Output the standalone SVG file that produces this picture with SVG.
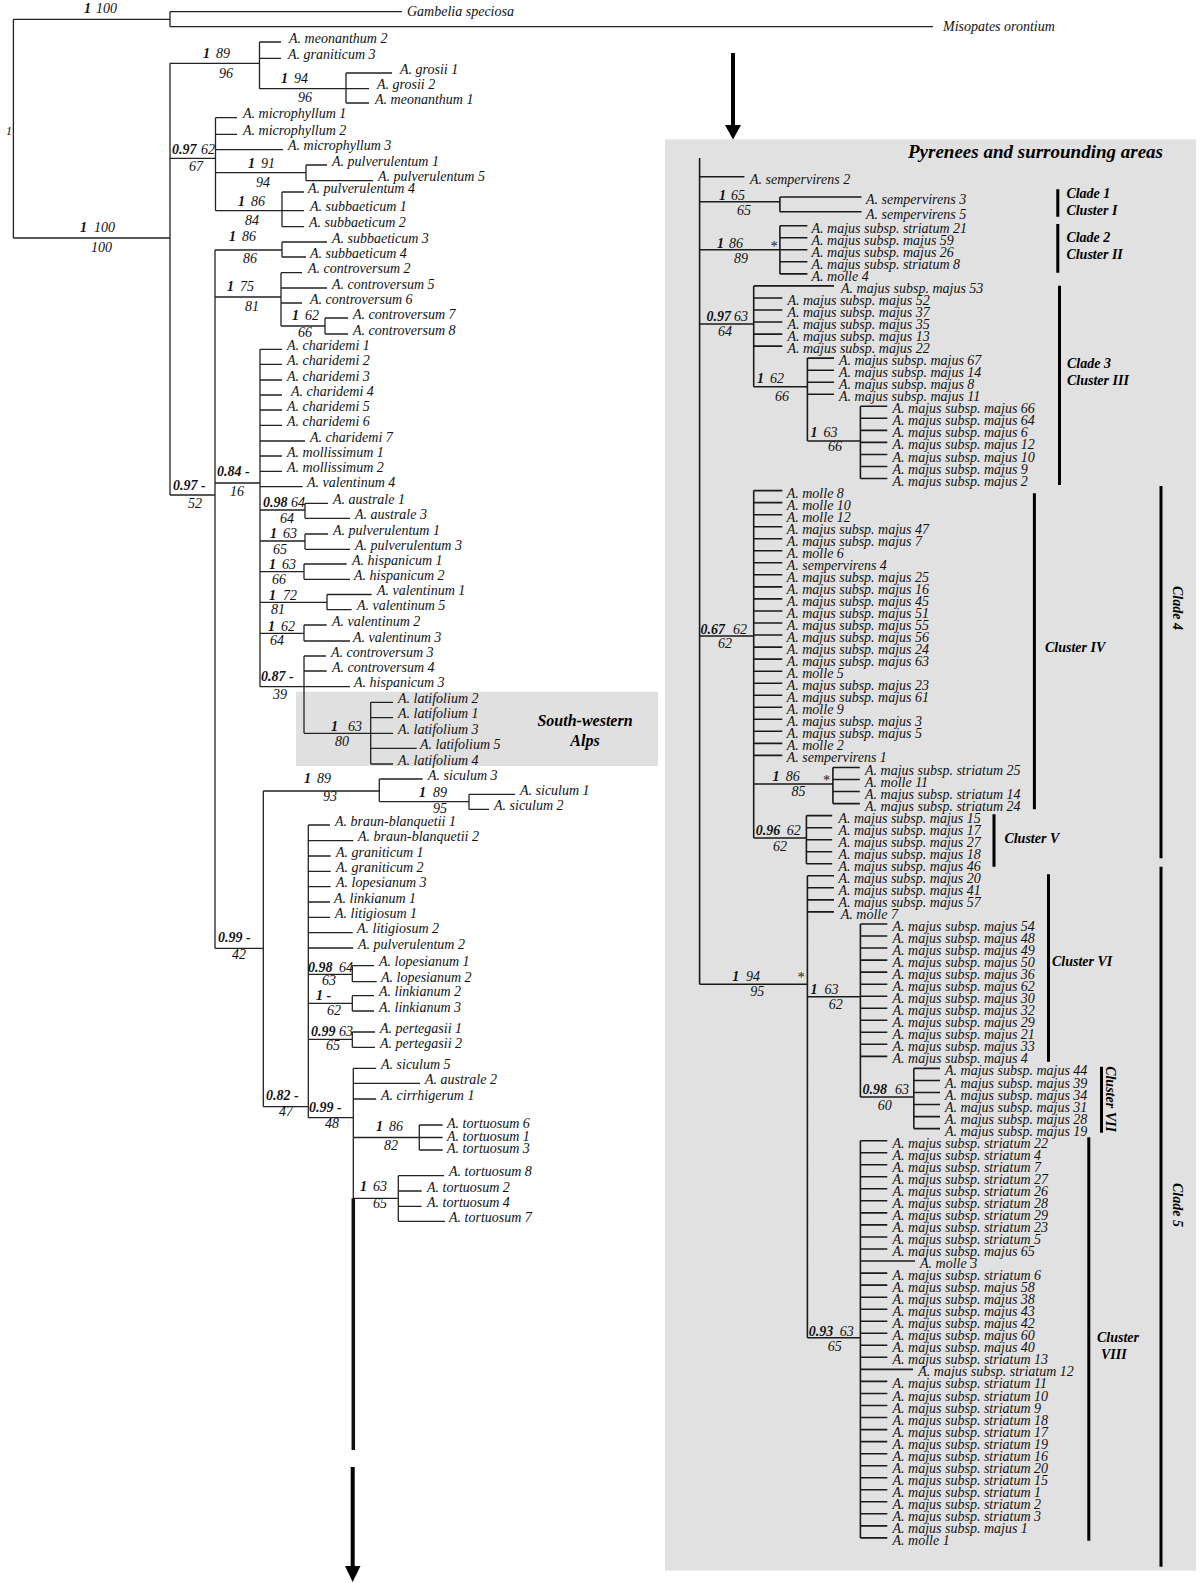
<svg xmlns="http://www.w3.org/2000/svg" width="1200" height="1583" viewBox="0 0 1200 1583">
<style>
.t{font-family:"Liberation Serif","Times New Roman",serif;font-style:italic;font-size:14px;fill:#111}
.b{font-weight:bold}
.h{font-family:"Liberation Serif","Times New Roman",serif;font-style:italic;font-weight:bold;font-size:14px;fill:#000}
.br{fill:none;stroke:#222;stroke-width:1.3}
.brR{fill:none;stroke:#1a1a1a;stroke-width:1.6}
.bar{fill:none;stroke:#000;stroke-width:3}
</style>
<rect width="1200" height="1583" fill="#fff"/>
<rect id="box-pyrenees" x="665" y="139.3" width="531" height="1431.4" fill="#e1e1e1"/>
<rect id="box-alps" x="296" y="691.7" width="362" height="74.3" fill="#e0e0e0"/>

<g id="connectors">
<path class="br" d="M13.4 19.3V238M13.4 19.3H170M170 11.7V26.7M170 11.7H402M170 26.7H933M13.4 238H170M170 63.3V495
M170 63.3H259.5M259.5 42V88.7M259.5 42H281M259.5 58.3H281M259.5 88.7H346M346 73V103M346 73H392M346 88.7H369M346 103H369
M170 158.3H215.5M215.5 117.7V210.7M215.5 117.7H237M215.5 134.3H237M215.5 149.7H283M215.5 172.7H306M306 165V180.7M306 165H327M306 180.7H373M215.5 210.7H282M282 192V226.7M282 192H304M282 210.7H304M282 226.7H304
M170 495H215M215 250V948.3M215 250H282M282 242V257M282 242H327M282 257H306M215 297H281M281 272.7V326M281 272.7H302M281 288H327M281 303H302M281 326H325M325 318V334M325 318H348M325 334H348
M215 483H260M260 349.3V686.7M260 349.3H282M260 364.3H282M260 380H282M260 395H282M260 410H282M260 425.3H282M260 441H305M260 456H282M260 471.3H282M260 486.7H302.7
M260 510H305M305 503.3V518.3M305 503.3H328M305 518.3H350
M260 541H305M305 534V549.3M305 534H328M305 549.3H350
M260 571.7H304M304 564V579.3M304 564H346.7M304 579.3H350
M260 602.3H327M327 594.5V609.7M327 594.5H371.7M327 609.7H351.7
M260 633.3H304M304 625V641M304 625H326.7M304 641H350
M304 656V733.3M304 656H326M304 671H326.7M260 686.7H350
M304 733.3H370.7M370.7 702.3V764M370.7 702.3H393M370.7 717.7H393M370.7 733.3H393M370.7 748.3H416.7M370.7 764H393
M215 948.3H263.3M263.3 791V1106.7M263.3 791H379.3M379.3 779V801.7M379.3 779H422.7M379.3 801.7H469M469 794.3V809.3M469 794.3H515M469 809.3H489
M263.3 1106.7H308.3M308.3 825V1117.7M308.3 825H330M308.3 840.7H353.3M308.3 856H330.7M308.3 871.3H330.7M308.3 886.7H330.7M308.3 902H330M308.3 917.3H330M308.3 932.7H352.7M308.3 948H353.3
M308.3 974.3H352.3M352.3 965.7V981.7M352.3 965.7H374M352.3 981.7H376.7
M308.3 1003.3H352.3M352.3 995.7V1011M352.3 995.7H374M352.3 1011H374
M308.3 1039.3H352.3M352.3 1032V1047.3M352.3 1032H375M352.3 1047.3H375
M308.3 1117.7H353.3M353.3 1068.3V1198.3M353.3 1068.3H376M353.3 1083.3H420M353.3 1099H376
M353.3 1137.5H419.3M419.3 1125V1150M419.3 1125H442.7M419.3 1137.5H442.7M419.3 1150H442.7
M353.3 1198.3H398.3M398.3 1175.7V1221.3M398.3 1175.7H444M398.3 1191H421.7M398.3 1206.3H421.7M398.3 1221.3H445"/>
<path fill="none" stroke="#111" stroke-width="3.5" d="M353.3 1198.3V1450"/>
<path fill="none" stroke="#000" stroke-width="4" d="M352.7 1467V1568M733 53V127"/>
<polygon points="345,1566 360.5,1566 352.7,1582" fill="#000"/>
<polygon points="725,125 741,125 733,139.5" fill="#000"/>
<path class="brR" d="M699.6 158V984.3M699.6 176.7H744.4
M699.6 201.7H779.9M779.9 197V211.7M779.9 197H861.5M779.9 211.7H861.5
M699.6 249.8H779.9M779.9 225.7V273.9M779.9 225.7H807.4M779.9 237.7H807.4M779.9 249.8H807.4M779.9 261.8H807.4M779.9 273.9H807.4
M699.6 324H753.7M753.7 285.9V386.7M753.7 285.9H834M753.7 298H782.3M753.7 310H782.3M753.7 322H782.3M753.7 334.1H782.3M753.7 346.1H782.3
M753.7 386.7H807.4M807.4 358.1V441M807.4 358.1H834M807.4 370.2H834M807.4 382.2H834M807.4 394.3H834
M807.4 441H860.4M860.4 406.3V478.5M860.4 406.3H887.3M860.4 418.3H887.3M860.4 430.4H887.3M860.4 442.4H887.3M860.4 454.5H887.3M860.4 466.5H887.3M860.4 478.5H887.3
M699.6 636H753.7M753.7 490.6V838M753.7 490.6H782.3M753.7 502.6H782.3M753.7 514.7H782.3M753.7 526.7H782.3M753.7 538.7H782.3M753.7 550.8H782.3M753.7 562.8H782.3M753.7 574.8H782.3M753.7 586.9H782.3M753.7 598.9H782.3M753.7 611H782.3M753.7 623H782.3M753.7 635H782.3M753.7 647.1H782.3M753.7 659.1H782.3M753.7 671.2H782.3M753.7 683.2H782.3M753.7 695.2H782.3M753.7 707.3H782.3M753.7 719.3H782.3M753.7 731.3H782.3M753.7 743.4H782.3M753.7 755.4H782.3
M753.7 784H832.9M832.9 767.5V803.6M832.9 767.5H859.8M832.9 779.5H859.8M832.9 791.5H859.8M832.9 803.6H859.8
M753.7 838H806.4M806.4 815.6V863.8M806.4 815.6H832.2M806.4 827.7H832.2M806.4 839.7H832.2M806.4 851.7H832.2M806.4 863.8H832.2
M699.6 984.3H807.4M807.4 875.8V1337.7M807.4 875.8H834M807.4 887.8H834M807.4 899.9H834M807.4 911.9H834
M807.4 996.7H860.4M860.4 924V1097M860.4 924H887.3M860.4 936H887.3M860.4 948H887.3M860.4 960.1H887.3M860.4 972.1H887.3M860.4 984.2H887.3M860.4 996.2H887.3M860.4 1008.2H887.3M860.4 1020.3H887.3M860.4 1032.3H887.3M860.4 1044.3H887.3M860.4 1056.4H887.3
M860.4 1097H913.8M913.8 1068.4V1128.6M913.8 1068.4H940M913.8 1080.5H940M913.8 1092.5H940M913.8 1104.5H940M913.8 1116.6H940M913.8 1128.6H940
M807.4 1337.7H860.4M860.4 1140.7V1537.9M860.4 1140.7H887.3M860.4 1152.7H887.3M860.4 1164.7H887.3M860.4 1176.8H887.3M860.4 1188.8H887.3M860.4 1200.8H887.3M860.4 1212.9H887.3M860.4 1224.9H887.3M860.4 1237H887.3M860.4 1249H887.3M860.4 1261H915M860.4 1273.1H887.3M860.4 1285.1H887.3M860.4 1297.2H887.3M860.4 1309.2H887.3M860.4 1321.2H887.3M860.4 1333.3H887.3M860.4 1345.3H887.3M860.4 1357.3H887.3M860.4 1369.4H913M860.4 1381.4H887.3M860.4 1393.5H887.3M860.4 1405.5H887.3M860.4 1417.5H887.3M860.4 1429.6H887.3M860.4 1441.6H887.3M860.4 1453.7H887.3M860.4 1465.7H887.3M860.4 1477.7H887.3M860.4 1489.8H887.3M860.4 1501.8H887.3M860.4 1513.8H887.3M860.4 1525.9H887.3M860.4 1537.9H887.3"/>
<path class="bar" d="M1057.8 189.3V216.7M1057.8 224V272.7M1059.5 285.7V485M1034.4 493.3V809.3M1161 486V858.3M994 814.3V866.7M1161 866.7V1566.7M1048.5 874.3V1061.7M1101.5 1066.7V1132.7M1088.8 1137.3V1540.7"/>
</g>

<g id="support-left">
<text class="t" x="6" y="135" style="font-size:12px">1</text>
<text class="t" x="84" y="13"><tspan class="b">1</tspan><tspan x="96">100</tspan></text>
<text class="t" x="80" y="231.5"><tspan class="b">1</tspan><tspan x="94">100</tspan></text>
<text class="t" x="91" y="251.5">100</text>
<text class="t" x="203" y="57.5"><tspan class="b">1</tspan><tspan x="216">89</tspan></text>
<text class="t" x="219" y="77.5">96</text>
<text class="t" x="281" y="82.5"><tspan class="b">1</tspan><tspan x="294">94</tspan></text>
<text class="t" x="298" y="101.5">96</text>
<text class="t" x="172" y="153.5"><tspan class="b">0.97</tspan><tspan x="201">62</tspan></text>
<text class="t" x="189" y="170.5">67</text>
<text class="t" x="248" y="167.5"><tspan class="b">1</tspan><tspan x="261">91</tspan></text>
<text class="t" x="256" y="186.5">94</text>
<text class="t" x="238" y="206"><tspan class="b">1</tspan><tspan x="251">86</tspan></text>
<text class="t" x="245" y="224.5">84</text>
<text class="t" x="229" y="240.5"><tspan class="b">1</tspan><tspan x="242">86</tspan></text>
<text class="t" x="243" y="262.5">86</text>
<text class="t" x="227" y="290.5"><tspan class="b">1</tspan><tspan x="240">75</tspan></text>
<text class="t" x="245" y="310.5">81</text>
<text class="t" x="292" y="319.5"><tspan class="b">1</tspan><tspan x="305">62</tspan></text>
<text class="t" x="298" y="336.5">66</text>
<text class="t b" x="173" y="489.5">0.97 -</text>
<text class="t" x="188" y="508">52</text>
<text class="t b" x="217" y="476">0.84 -</text>
<text class="t" x="230" y="496">16</text>
<text class="t" x="263" y="507"><tspan class="b">0.98</tspan><tspan x="291">64</tspan></text>
<text class="t" x="280" y="523">64</text>
<text class="t" x="270" y="538"><tspan class="b">1</tspan><tspan x="283">63</tspan></text>
<text class="t" x="273" y="554">65</text>
<text class="t" x="269" y="568.5"><tspan class="b">1</tspan><tspan x="282">63</tspan></text>
<text class="t" x="272" y="583.5">66</text>
<text class="t" x="269" y="599.5"><tspan class="b">1</tspan><tspan x="283">72</tspan></text>
<text class="t" x="271" y="614">81</text>
<text class="t" x="268" y="630.5"><tspan class="b">1</tspan><tspan x="281">62</tspan></text>
<text class="t" x="270" y="644.5">64</text>
<text class="t b" x="261" y="681">0.87 -</text>
<text class="t" x="273" y="698.5">39</text>
<text class="t" x="331" y="730.5"><tspan class="b">1</tspan><tspan x="348">63</tspan></text>
<text class="t" x="335" y="746">80</text>
<text class="t b" x="218" y="942">0.99 -</text>
<text class="t" x="232" y="959">42</text>
<text class="t" x="304" y="783"><tspan class="b">1</tspan><tspan x="317">89</tspan></text>
<text class="t" x="323" y="801">93</text>
<text class="t" x="419" y="797"><tspan class="b">1</tspan><tspan x="433">89</tspan></text>
<text class="t" x="433" y="813">95</text>
<text class="t b" x="266" y="1099.5">0.82 -</text>
<text class="t" x="279" y="1116">47</text>
<text class="t" x="308" y="971.5"><tspan class="b">0.98</tspan><tspan x="339">64</tspan></text>
<text class="t" x="322" y="984.5">63</text>
<text class="t b" x="316" y="1000">1 -</text>
<text class="t" x="327" y="1014.5">62</text>
<text class="t" x="311" y="1036"><tspan class="b">0.99</tspan><tspan x="339">63</tspan></text>
<text class="t" x="326" y="1050">65</text>
<text class="t b" x="309" y="1111.5">0.99 -</text>
<text class="t" x="325" y="1128">48</text>
<text class="t" x="376" y="1131"><tspan class="b">1</tspan><tspan x="389">86</tspan></text>
<text class="t" x="384" y="1149.5">82</text>
<text class="t" x="360" y="1190.5"><tspan class="b">1</tspan><tspan x="373">63</tspan></text>
<text class="t" x="373" y="1208">65</text>
</g>

<g id="outgroups">
<g id="gambelia"><text class="t" x="407" y="16">Gambelia speciosa</text></g>
<g id="misopates"><text class="t" x="943" y="31">Misopates orontium</text></g>
</g>

<g id="leaves-left">
<g id="l-meonanthum2"><text class="t" x="289" y="42.5">A. meonanthum 2</text></g>
<g id="l-graniticum3"><text class="t" x="288" y="58.8">A. graniticum 3</text></g>
<g id="l-grosii1"><text class="t" x="400" y="73.5">A. grosii 1</text></g>
<g id="l-grosii2"><text class="t" x="377" y="89.2">A. grosii 2</text></g>
<g id="l-meonanthum1"><text class="t" x="375" y="103.5">A. meonanthum 1</text></g>
<g id="l-microphyllum1"><text class="t" x="243" y="118.2">A. microphyllum 1</text></g>
<g id="l-microphyllum2"><text class="t" x="243" y="134.8">A. microphyllum 2</text></g>
<g id="l-microphyllum3"><text class="t" x="288" y="150.2">A. microphyllum 3</text></g>
<g id="l-pulverulentum1"><text class="t" x="332" y="165.5">A. pulverulentum 1</text></g>
<g id="l-pulverulentum5"><text class="t" x="378" y="181.2">A. pulverulentum 5</text></g>
<g id="l-pulverulentum4"><text class="t" x="308" y="192.5">A. pulverulentum 4</text></g>
<g id="l-subbaeticum1"><text class="t" x="310" y="211">A. subbaeticum 1</text></g>
<g id="l-subbaeticum2"><text class="t" x="309" y="227.2">A. subbaeticum 2</text></g>
<g id="l-subbaeticum3"><text class="t" x="332" y="242.5">A. subbaeticum 3</text></g>
<g id="l-subbaeticum4"><text class="t" x="310" y="257.5">A. subbaeticum 4</text></g>
<g id="l-controversum2"><text class="t" x="308" y="273.2">A. controversum 2</text></g>
<g id="l-controversum5"><text class="t" x="332" y="288.5">A. controversum 5</text></g>
<g id="l-controversum6"><text class="t" x="310" y="303.5">A. controversum 6</text></g>
<g id="l-controversum7"><text class="t" x="353" y="318.5">A. controversum 7</text></g>
<g id="l-controversum8"><text class="t" x="353" y="334.5">A. controversum 8</text></g>
<g id="l-charidemi1"><text class="t" x="287" y="350">A. charidemi 1</text></g>
<g id="l-charidemi2"><text class="t" x="287" y="365">A. charidemi 2</text></g>
<g id="l-charidemi3"><text class="t" x="287" y="380.5">A. charidemi 3</text></g>
<g id="l-charidemi4"><text class="t" x="291" y="395.5">A. charidemi 4</text></g>
<g id="l-charidemi5"><text class="t" x="287" y="410.5">A. charidemi 5</text></g>
<g id="l-charidemi6"><text class="t" x="287" y="426">A. charidemi 6</text></g>
<g id="l-charidemi7"><text class="t" x="310" y="441.5">A. charidemi 7</text></g>
<g id="l-mollissimum1"><text class="t" x="287" y="456.5">A. mollissimum 1</text></g>
<g id="l-mollissimum2"><text class="t" x="287" y="472">A. mollissimum 2</text></g>
<g id="l-valentinum4"><text class="t" x="307" y="487">A. valentinum 4</text></g>
<g id="l-australe1"><text class="t" x="333" y="503.8">A. australe 1</text></g>
<g id="l-australe3"><text class="t" x="355" y="518.8">A. australe 3</text></g>
<g id="l-pulverulentum1b"><text class="t" x="333" y="534.5">A. pulverulentum 1</text></g>
<g id="l-pulverulentum3"><text class="t" x="355" y="549.8">A. pulverulentum 3</text></g>
<g id="l-hispanicum1"><text class="t" x="352" y="564.5">A. hispanicum 1</text></g>
<g id="l-hispanicum2"><text class="t" x="354" y="579.8">A. hispanicum 2</text></g>
<g id="l-valentinum1"><text class="t" x="377" y="595">A. valentinum 1</text></g>
<g id="l-valentinum5"><text class="t" x="357" y="610.2">A. valentinum 5</text></g>
<g id="l-valentinum2"><text class="t" x="332" y="625.5">A. valentinum 2</text></g>
<g id="l-valentinum3"><text class="t" x="353" y="641.5">A. valentinum 3</text></g>
<g id="l-controversum3"><text class="t" x="331" y="656.5">A. controversum 3</text></g>
<g id="l-controversum4"><text class="t" x="332" y="671.5">A. controversum 4</text></g>
<g id="l-hispanicum3"><text class="t" x="354" y="687.2">A. hispanicum 3</text></g>
<g id="l-latifolium2"><text class="t" x="398" y="702.8">A. latifolium 2</text></g>
<g id="l-latifolium1"><text class="t" x="398" y="718.2">A. latifolium 1</text></g>
<g id="l-latifolium3"><text class="t" x="398" y="733.8">A. latifolium 3</text></g>
<g id="l-latifolium5"><text class="t" x="420" y="748.8">A. latifolium 5</text></g>
<g id="l-latifolium4"><text class="t" x="398" y="764.5">A. latifolium 4</text></g>
<g id="l-siculum3"><text class="t" x="428" y="779.5">A. siculum 3</text></g>
<g id="l-siculum1"><text class="t" x="520" y="794.8">A. siculum 1</text></g>
<g id="l-siculum2"><text class="t" x="494" y="809.8">A. siculum 2</text></g>
<g id="l-braun1"><text class="t" x="335" y="825.5">A. braun-blanquetii 1</text></g>
<g id="l-braun2"><text class="t" x="358" y="841.2">A. braun-blanquetii 2</text></g>
<g id="l-graniticum1"><text class="t" x="336" y="856.5">A. graniticum 1</text></g>
<g id="l-graniticum2"><text class="t" x="336" y="871.8">A. graniticum 2</text></g>
<g id="l-lopesianum3"><text class="t" x="336" y="887.2">A. lopesianum 3</text></g>
<g id="l-linkianum1"><text class="t" x="334" y="902.5">A. linkianum 1</text></g>
<g id="l-litigiosum1"><text class="t" x="335" y="917.8">A. litigiosum 1</text></g>
<g id="l-litigiosum2"><text class="t" x="357" y="933.2">A. litigiosum 2</text></g>
<g id="l-pulverulentum2"><text class="t" x="358" y="948.5">A. pulverulentum 2</text></g>
<g id="l-lopesianum1"><text class="t" x="379" y="966.2">A. lopesianum 1</text></g>
<g id="l-lopesianum2"><text class="t" x="381" y="982.2">A. lopesianum 2</text></g>
<g id="l-linkianum2"><text class="t" x="379" y="996.2">A. linkianum 2</text></g>
<g id="l-linkianum3"><text class="t" x="379" y="1011.5">A. linkianum 3</text></g>
<g id="l-pertegasii1"><text class="t" x="380" y="1032.5">A. pertegasii 1</text></g>
<g id="l-pertegasii2"><text class="t" x="380" y="1047.8">A. pertegasii 2</text></g>
<g id="l-siculum5"><text class="t" x="381" y="1068.8">A. siculum 5</text></g>
<g id="l-australe2"><text class="t" x="425" y="1083.8">A. australe 2</text></g>
<g id="l-cirrhigerum1"><text class="t" x="381" y="1099.5">A. cirrhigerum 1</text></g>
<g id="l-tortuosum6"><text class="t" x="447" y="1128">A. tortuosum 6</text></g>
<g id="l-tortuosum1"><text class="t" x="447" y="1140.5">A. tortuosum 1</text></g>
<g id="l-tortuosum3"><text class="t" x="447" y="1153">A. tortuosum 3</text></g>
<g id="l-tortuosum8"><text class="t" x="449" y="1176.2">A. tortuosum 8</text></g>
<g id="l-tortuosum2"><text class="t" x="427" y="1191.5">A. tortuosum 2</text></g>
<g id="l-tortuosum4"><text class="t" x="427" y="1206.8">A. tortuosum 4</text></g>
<g id="l-tortuosum7"><text class="t" x="449" y="1221.8">A. tortuosum 7</text></g>
</g>

<g id="region-alps">
<text class="h" x="585" y="725.5" text-anchor="middle" style="font-size:16px">South-western</text>
<text class="h" x="585" y="745.5" text-anchor="middle" style="font-size:16px">Alps</text>
</g>

<g id="region-pyrenees">
<text class="h" x="908" y="158" style="font-size:19px">Pyrenees and surrounding areas</text>
</g>

<g id="support-right">
<text class="t" x="719" y="200"><tspan class="b">1</tspan><tspan x="731">65</tspan></text>
<text class="t" x="737" y="215">65</text>
<text class="t" x="717" y="247.5"><tspan class="b">1</tspan><tspan x="729">86</tspan></text>
<text class="t" x="734" y="263">89</text>
<text class="t" x="770" y="251">*</text>
<text class="t" x="706.5" y="321"><tspan class="b">0.97</tspan><tspan x="734">63</tspan></text>
<text class="t" x="718" y="336">64</text>
<text class="t" x="757" y="383"><tspan class="b">1</tspan><tspan x="770">62</tspan></text>
<text class="t" x="775" y="400.5">66</text>
<text class="t" x="810.5" y="437"><tspan class="b">1</tspan><tspan x="823.5">63</tspan></text>
<text class="t" x="828" y="451">66</text>
<text class="t" x="700.6" y="634"><tspan class="b">0.67</tspan><tspan x="733">62</tspan></text>
<text class="t" x="718" y="648">62</text>
<text class="t" x="772.6" y="780.5"><tspan class="b">1</tspan><tspan x="785.7">86</tspan></text>
<text class="t" x="791.6" y="796">85</text>
<text class="t" x="822.6" y="785">*</text>
<text class="t" x="755.7" y="835"><tspan class="b">0.96</tspan><tspan x="786.7">62</tspan></text>
<text class="t" x="773" y="851">62</text>
<text class="t" x="732.3" y="980.5"><tspan class="b">1</tspan><tspan x="746">94</tspan></text>
<text class="t" x="750.2" y="996">95</text>
<text class="t" x="797" y="982">*</text>
<text class="t" x="810.5" y="994"><tspan class="b">1</tspan><tspan x="824.6">63</tspan></text>
<text class="t" x="828.8" y="1008.5">62</text>
<text class="t" x="862.5" y="1094"><tspan class="b">0.98</tspan><tspan x="894.9">63</tspan></text>
<text class="t" x="877.7" y="1109.5">60</text>
<text class="t" x="808.8" y="1335.5"><tspan class="b">0.93</tspan><tspan x="839.8">63</tspan></text>
<text class="t" x="827.7" y="1351">65</text>
</g>

<g id="leaves-right">
<g id="r1"><text class="t" x="750" y="184">A. sempervirens 2</text></g>
<g id="r2"><text class="t" x="866" y="204">A. sempervirens 3</text></g>
<g id="r3"><text class="t" x="866" y="218.7">A. sempervirens 5</text></g>
<g id="r4"><text class="t" x="811.5" y="232.7">A. majus subsp. striatum 21</text></g>
<g id="r5"><text class="t" x="811.5" y="244.7">A. majus subsp. majus 59</text></g>
<g id="r6"><text class="t" x="811.5" y="256.8">A. majus subsp. majus 26</text></g>
<g id="r7"><text class="t" x="811.5" y="268.8">A. majus subsp. striatum 8</text></g>
<g id="r8"><text class="t" x="811.5" y="280.9">A. molle 4</text></g>
<g id="r9"><text class="t" x="841" y="292.9">A. majus subsp. majus 53</text></g>
<g id="r10"><text class="t" x="787.4" y="305">A. majus subsp. majus 52</text></g>
<g id="r11"><text class="t" x="787.4" y="317">A. majus subsp. majus 37</text></g>
<g id="r12"><text class="t" x="787.4" y="329">A. majus subsp. majus 35</text></g>
<g id="r13"><text class="t" x="787.4" y="341.1">A. majus subsp. majus 13</text></g>
<g id="r14"><text class="t" x="787.4" y="353.1">A. majus subsp. majus 22</text></g>
<g id="r15"><text class="t" x="839" y="365.1">A. majus subsp. majus 67</text></g>
<g id="r16"><text class="t" x="839" y="377.2">A. majus subsp. majus 14</text></g>
<g id="r17"><text class="t" x="839" y="389.2">A. majus subsp. majus 8</text></g>
<g id="r18"><text class="t" x="839" y="401.3">A. majus subsp. majus 11</text></g>
<g id="r19"><text class="t" x="892.5" y="413.3">A. majus subsp. majus 66</text></g>
<g id="r20"><text class="t" x="892.5" y="425.3">A. majus subsp. majus 64</text></g>
<g id="r21"><text class="t" x="892.5" y="437.4">A. majus subsp. majus 6</text></g>
<g id="r22"><text class="t" x="892.5" y="449.4">A. majus subsp. majus 12</text></g>
<g id="r23"><text class="t" x="892.5" y="461.5">A. majus subsp. majus 10</text></g>
<g id="r24"><text class="t" x="892.5" y="473.5">A. majus subsp. majus 9</text></g>
<g id="r25"><text class="t" x="892.5" y="485.5">A. majus subsp. majus 2</text></g>
<g id="r26"><text class="t" x="786.7" y="497.6">A. molle 8</text></g>
<g id="r27"><text class="t" x="786.7" y="509.6">A. molle 10</text></g>
<g id="r28"><text class="t" x="786.7" y="521.7">A. molle 12</text></g>
<g id="r29"><text class="t" x="786.7" y="533.7">A. majus subsp. majus 47</text></g>
<g id="r30"><text class="t" x="786.7" y="545.7">A. majus subsp. majus 7</text></g>
<g id="r31"><text class="t" x="786.7" y="557.8">A. molle 6</text></g>
<g id="r32"><text class="t" x="786.7" y="569.8">A. sempervirens 4</text></g>
<g id="r33"><text class="t" x="786.7" y="581.8">A. majus subsp. majus 25</text></g>
<g id="r34"><text class="t" x="786.7" y="593.9">A. majus subsp. majus 16</text></g>
<g id="r35"><text class="t" x="786.7" y="605.9">A. majus subsp. majus 45</text></g>
<g id="r36"><text class="t" x="786.7" y="618">A. majus subsp. majus 51</text></g>
<g id="r37"><text class="t" x="786.7" y="630">A. majus subsp. majus 55</text></g>
<g id="r38"><text class="t" x="786.7" y="642">A. majus subsp. majus 56</text></g>
<g id="r39"><text class="t" x="786.7" y="654.1">A. majus subsp. majus 24</text></g>
<g id="r40"><text class="t" x="786.7" y="666.1">A. majus subsp. majus 63</text></g>
<g id="r41"><text class="t" x="786.7" y="678.2">A. molle 5</text></g>
<g id="r42"><text class="t" x="786.7" y="690.2">A. majus subsp. majus 23</text></g>
<g id="r43"><text class="t" x="786.7" y="702.2">A. majus subsp. majus 61</text></g>
<g id="r44"><text class="t" x="786.7" y="714.3">A. molle 9</text></g>
<g id="r45"><text class="t" x="786.7" y="726.3">A. majus subsp. majus 3</text></g>
<g id="r46"><text class="t" x="786.7" y="738.3">A. majus subsp. majus 5</text></g>
<g id="r47"><text class="t" x="786.7" y="750.4">A. molle 2</text></g>
<g id="r48"><text class="t" x="786.7" y="762.4">A. sempervirens 1</text></g>
<g id="r49"><text class="t" x="865" y="774.5">A. majus subsp. striatum 25</text></g>
<g id="r50"><text class="t" x="865" y="786.5">A. molle 11</text></g>
<g id="r51"><text class="t" x="865" y="798.5">A. majus subsp. striatum 14</text></g>
<g id="r52"><text class="t" x="865" y="810.6">A. majus subsp. striatum 24</text></g>
<g id="r53"><text class="t" x="838.4" y="822.6">A. majus subsp. majus 15</text></g>
<g id="r54"><text class="t" x="838.4" y="834.7">A. majus subsp. majus 17</text></g>
<g id="r55"><text class="t" x="838.4" y="846.7">A. majus subsp. majus 27</text></g>
<g id="r56"><text class="t" x="838.4" y="858.7">A. majus subsp. majus 18</text></g>
<g id="r57"><text class="t" x="838.4" y="870.8">A. majus subsp. majus 46</text></g>
<g id="r58"><text class="t" x="838.4" y="882.8">A. majus subsp. majus 20</text></g>
<g id="r59"><text class="t" x="838.4" y="894.8">A. majus subsp. majus 41</text></g>
<g id="r60"><text class="t" x="838.4" y="906.9">A. majus subsp. majus 57</text></g>
<g id="r61"><text class="t" x="840.8" y="918.9">A. molle 7</text></g>
<g id="r62"><text class="t" x="892.5" y="931">A. majus subsp. majus 54</text></g>
<g id="r63"><text class="t" x="892.5" y="943">A. majus subsp. majus 48</text></g>
<g id="r64"><text class="t" x="892.5" y="955">A. majus subsp. majus 49</text></g>
<g id="r65"><text class="t" x="892.5" y="967.1">A. majus subsp. majus 50</text></g>
<g id="r66"><text class="t" x="892.5" y="979.1">A. majus subsp. majus 36</text></g>
<g id="r67"><text class="t" x="892.5" y="991.2">A. majus subsp. majus 62</text></g>
<g id="r68"><text class="t" x="892.5" y="1003.2">A. majus subsp. majus 30</text></g>
<g id="r69"><text class="t" x="892.5" y="1015.2">A. majus subsp. majus 32</text></g>
<g id="r70"><text class="t" x="892.5" y="1027.3">A. majus subsp. majus 29</text></g>
<g id="r71"><text class="t" x="892.5" y="1039.3">A. majus subsp. majus 21</text></g>
<g id="r72"><text class="t" x="892.5" y="1051.3">A. majus subsp. majus 33</text></g>
<g id="r73"><text class="t" x="892.5" y="1063.4">A. majus subsp. majus 4</text></g>
<g id="r74"><text class="t" x="945" y="1075.4">A. majus subsp. majus 44</text></g>
<g id="r75"><text class="t" x="945" y="1087.5">A. majus subsp. majus 39</text></g>
<g id="r76"><text class="t" x="945" y="1099.5">A. majus subsp. majus 34</text></g>
<g id="r77"><text class="t" x="945" y="1111.5">A. majus subsp. majus 31</text></g>
<g id="r78"><text class="t" x="945" y="1123.6">A. majus subsp. majus 28</text></g>
<g id="r79"><text class="t" x="945" y="1135.6">A. majus subsp. majus 19</text></g>
<g id="r80"><text class="t" x="892.5" y="1147.7">A. majus subsp. striatum 22</text></g>
<g id="r81"><text class="t" x="892.5" y="1159.7">A. majus subsp. striatum 4</text></g>
<g id="r82"><text class="t" x="892.5" y="1171.7">A. majus subsp. striatum 7</text></g>
<g id="r83"><text class="t" x="892.5" y="1183.8">A. majus subsp. striatum 27</text></g>
<g id="r84"><text class="t" x="892.5" y="1195.8">A. majus subsp. striatum 26</text></g>
<g id="r85"><text class="t" x="892.5" y="1207.8">A. majus subsp. striatum 28</text></g>
<g id="r86"><text class="t" x="892.5" y="1219.9">A. majus subsp. striatum 29</text></g>
<g id="r87"><text class="t" x="892.5" y="1231.9">A. majus subsp. striatum 23</text></g>
<g id="r88"><text class="t" x="892.5" y="1244">A. majus subsp. striatum 5</text></g>
<g id="r89"><text class="t" x="892.5" y="1256">A. majus subsp. majus 65</text></g>
<g id="r90"><text class="t" x="920" y="1268">A. molle 3</text></g>
<g id="r91"><text class="t" x="892.5" y="1280.1">A. majus subsp. striatum 6</text></g>
<g id="r92"><text class="t" x="892.5" y="1292.1">A. majus subsp. majus 58</text></g>
<g id="r93"><text class="t" x="892.5" y="1304.2">A. majus subsp. majus 38</text></g>
<g id="r94"><text class="t" x="892.5" y="1316.2">A. majus subsp. majus 43</text></g>
<g id="r95"><text class="t" x="892.5" y="1328.2">A. majus subsp. majus 42</text></g>
<g id="r96"><text class="t" x="892.5" y="1340.3">A. majus subsp. majus 60</text></g>
<g id="r97"><text class="t" x="892.5" y="1352.3">A. majus subsp. majus 40</text></g>
<g id="r98"><text class="t" x="892.5" y="1364.3">A. majus subsp. striatum 13</text></g>
<g id="r99"><text class="t" x="918.3" y="1376.4">A. majus subsp. striatum 12</text></g>
<g id="r100"><text class="t" x="892.5" y="1388.4">A. majus subsp. striatum 11</text></g>
<g id="r101"><text class="t" x="892.5" y="1400.5">A. majus subsp. striatum 10</text></g>
<g id="r102"><text class="t" x="892.5" y="1412.5">A. majus subsp. striatum 9</text></g>
<g id="r103"><text class="t" x="892.5" y="1424.5">A. majus subsp. striatum 18</text></g>
<g id="r104"><text class="t" x="892.5" y="1436.6">A. majus subsp. striatum 17</text></g>
<g id="r105"><text class="t" x="892.5" y="1448.6">A. majus subsp. striatum 19</text></g>
<g id="r106"><text class="t" x="892.5" y="1460.7">A. majus subsp. striatum 16</text></g>
<g id="r107"><text class="t" x="892.5" y="1472.7">A. majus subsp. striatum 20</text></g>
<g id="r108"><text class="t" x="892.5" y="1484.7">A. majus subsp. striatum 15</text></g>
<g id="r109"><text class="t" x="892.5" y="1496.8">A. majus subsp. striatum 1</text></g>
<g id="r110"><text class="t" x="892.5" y="1508.8">A. majus subsp. striatum 2</text></g>
<g id="r111"><text class="t" x="892.5" y="1520.8">A. majus subsp. striatum 3</text></g>
<g id="r112"><text class="t" x="892.5" y="1532.9">A. majus subsp. majus 1</text></g>
<g id="r113"><text class="t" x="892.5" y="1544.9">A. molle 1</text></g>
</g>

<g id="clade-labels">
<text class="h" x="1066.4" y="198">Clade 1</text>
<text class="h" x="1066.4" y="215">Cluster I</text>
<text class="h" x="1066.4" y="241.5">Clade 2</text>
<text class="h" x="1066.4" y="259">Cluster II</text>
<text class="h" x="1067" y="367.5">Clade 3</text>
<text class="h" x="1067" y="384.5">Cluster III</text>
<text class="h" x="1045" y="651.5">Cluster IV</text>
<text class="h" x="1004.4" y="843">Cluster V</text>
<text class="h" x="1052" y="966">Cluster VI</text>
<text class="h" x="1097" y="1342">Cluster</text>
<text class="h" x="1101" y="1359">VIII</text>
<text class="h" x="1173" y="608" text-anchor="middle" transform="rotate(90 1173 608)">Clade 4</text>
<text class="h" x="1173" y="1205" text-anchor="middle" transform="rotate(90 1173 1205)">Clade 5</text>
<text class="h" x="1106" y="1099" text-anchor="middle" transform="rotate(90 1106 1099)">Cluster VII</text>
</g>
</svg>
